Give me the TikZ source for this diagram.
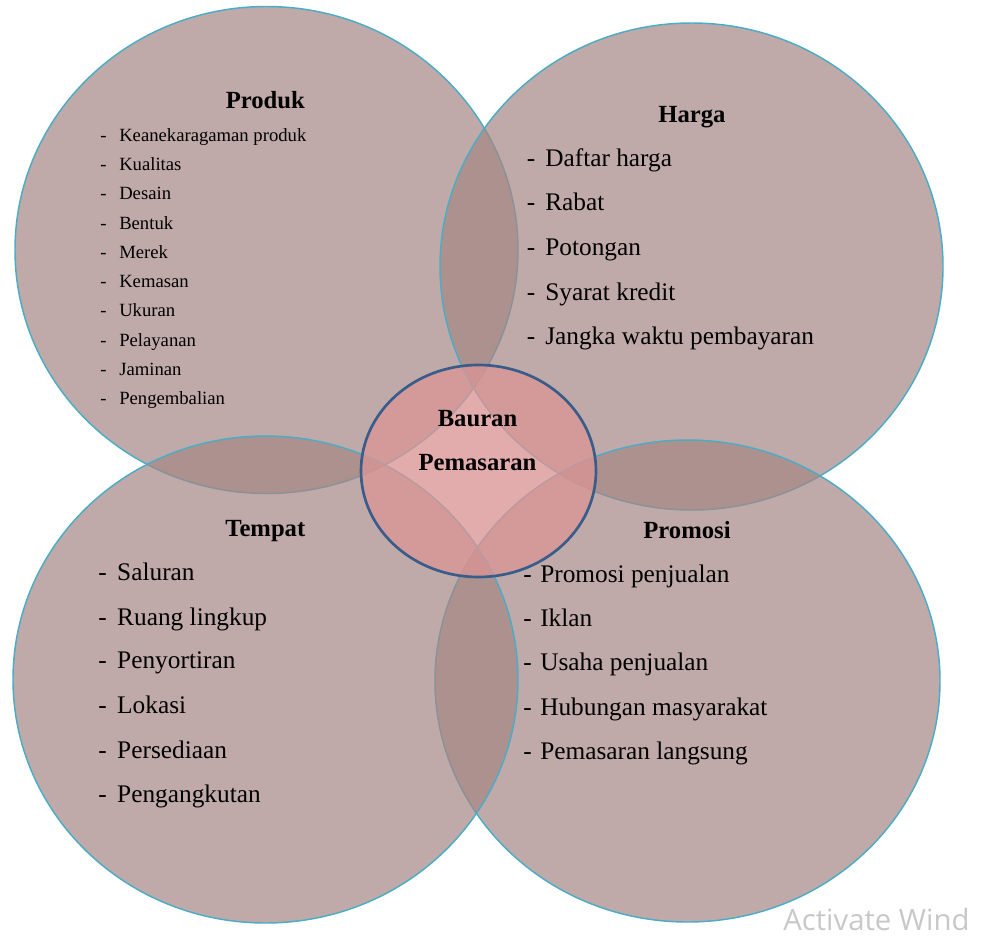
\documentclass[tikz,border=0pt]{standalone}
\usepackage{fontspec}
\setmainfont{Liberation Serif}
\newfontfamily\wmfont{Open Sans}
\usetikzlibrary{shapes.geometric}
\definecolor{circfill}{RGB}{165,134,132}
\definecolor{circline}{RGB}{75,172,198}
\definecolor{centfill}{RGB}{218,149,149}
\definecolor{centline}{RGB}{56,93,138}
\definecolor{wmgray}{RGB}{200,200,200}
\begin{document}
\begin{tikzpicture}[x=0.75pt,y=-0.75pt,
  bigc/.style={ellipse, draw=circline, line width=1.1pt, fill=circfill,
    fill opacity=0.7, draw opacity=1, inner sep=0pt, outer sep=0pt},
  centc/.style={ellipse, draw=centline, line width=2pt, fill=centfill,
    fill opacity=0.78, draw opacity=1, inner sep=0pt, outer sep=0pt},
  head/.style={font=\fontsize{18.5}{22}\selectfont\bfseries, anchor=base, inner sep=0pt},
  bitem/.style={font=\fontsize{19}{23}\selectfont, anchor=base west, inner sep=0pt},
  sitem/.style={font=\fontsize{14}{17}\selectfont, anchor=base west, inner sep=0pt}]
\useasboundingbox (0,0) rectangle (986,939);
% big circles
\node[bigc, minimum width={503*0.75pt}, minimum height={487*0.75pt}] (cprod) at (266.5,250) {};
\node[bigc, minimum width={503*0.75pt}, minimum height={487*0.75pt}] (charga) at (691.5,266.5) {};
\node[bigc, minimum width={505*0.75pt}, minimum height={482*0.75pt}] (cprom) at (687.5,681) {};
\node[bigc, minimum width={505*0.75pt}, minimum height={487*0.75pt}] (ctemp) at (265.5,679.5) {};
% centre
\node[centc, minimum width={235*0.75pt}, minimum height={212*0.75pt}] (ccent) at (478.5,471) {};
% centre text
\node[head] (bauran) at (477.5,426.5) {Bauran};
\node[head] (pemasaran) at (477.5,470.5) {Pemasaran};
% Produk
\node[head] (hprod) at (265.3,108.7) {Produk};
\node[sitem] (p1) at (100,141) {\makebox[14.25pt][l]{-}Keanekaragaman produk};
\node[sitem] (p2) at (100,170) {\makebox[14.25pt][l]{-}Kualitas};
\node[sitem] (p3) at (100,199.5) {\makebox[14.25pt][l]{-}Desain};
\node[sitem] (p4) at (100,229) {\makebox[14.25pt][l]{-}Bentuk};
\node[sitem] (p5) at (100,258.5) {\makebox[14.25pt][l]{-}Merek};
\node[sitem] (p6) at (100,287.5) {\makebox[14.25pt][l]{-}Kemasan};
\node[sitem] (p7) at (100,316.5) {\makebox[14.25pt][l]{-}Ukuran};
\node[sitem] (p8) at (100,346) {\makebox[14.25pt][l]{-}Pelayanan};
\node[sitem] (p9) at (100,375.5) {\makebox[14.25pt][l]{-}Jaminan};
\node[sitem] (p10) at (100,404.5) {\makebox[14.25pt][l]{-}Pengembalian};
% Harga
\node[head] (hharga) at (692,122.7) {Harga};
\node[bitem] (h1) at (526.5,166.7) {\makebox[13.9pt][l]{-}Daftar harga};
\node[bitem] (h2) at (526.5,210.7) {\makebox[13.9pt][l]{-}Rabat};
\node[bitem] (h3) at (526.5,255.5) {\makebox[13.9pt][l]{-}Potongan};
\node[bitem] (h4) at (526.5,300) {\makebox[13.9pt][l]{-}Syarat kredit};
\node[bitem] (h5) at (526.5,344) {\makebox[13.9pt][l]{-}Jangka waktu pembayaran};
% Tempat
\node[head] (htemp) at (265.3,536.7) {Tempat};
\node[bitem] (t1) at (98,580.7) {\makebox[14.25pt][l]{-}Saluran};
\node[bitem] (t2) at (98,625) {\makebox[14.25pt][l]{-}Ruang lingkup};
\node[bitem] (t3) at (98,668.5) {\makebox[14.25pt][l]{-}Penyortiran};
\node[bitem] (t4) at (98,713.3) {\makebox[14.25pt][l]{-}Lokasi};
\node[bitem] (t5) at (98,758) {\makebox[14.25pt][l]{-}Persediaan};
\node[bitem] (t6) at (98,802.7) {\makebox[14.25pt][l]{-}Pengangkutan};
% Promosi
\node[head] (hprom) at (687,538.5) {Promosi};
\node[bitem] (r1) at (523,582.5) {\makebox[12.75pt][l]{-}Promosi penjualan};
\node[bitem] (r2) at (523,626.5) {\makebox[12.75pt][l]{-}Iklan};
\node[bitem] (r3) at (523,670) {\makebox[12.75pt][l]{-}Usaha penjualan};
\node[bitem] (r4) at (523,715) {\makebox[12.75pt][l]{-}Hubungan masyarakat};
\node[bitem] (r5) at (523,759) {\makebox[12.75pt][l]{-}Pemasaran langsung};
% watermark
\node[anchor=base west, inner sep=0pt, text=wmgray, font=\wmfont\fontsize{22}{26}\selectfont] (wm) at (783,930) {Activate Wind};
\end{tikzpicture}
\end{document}
